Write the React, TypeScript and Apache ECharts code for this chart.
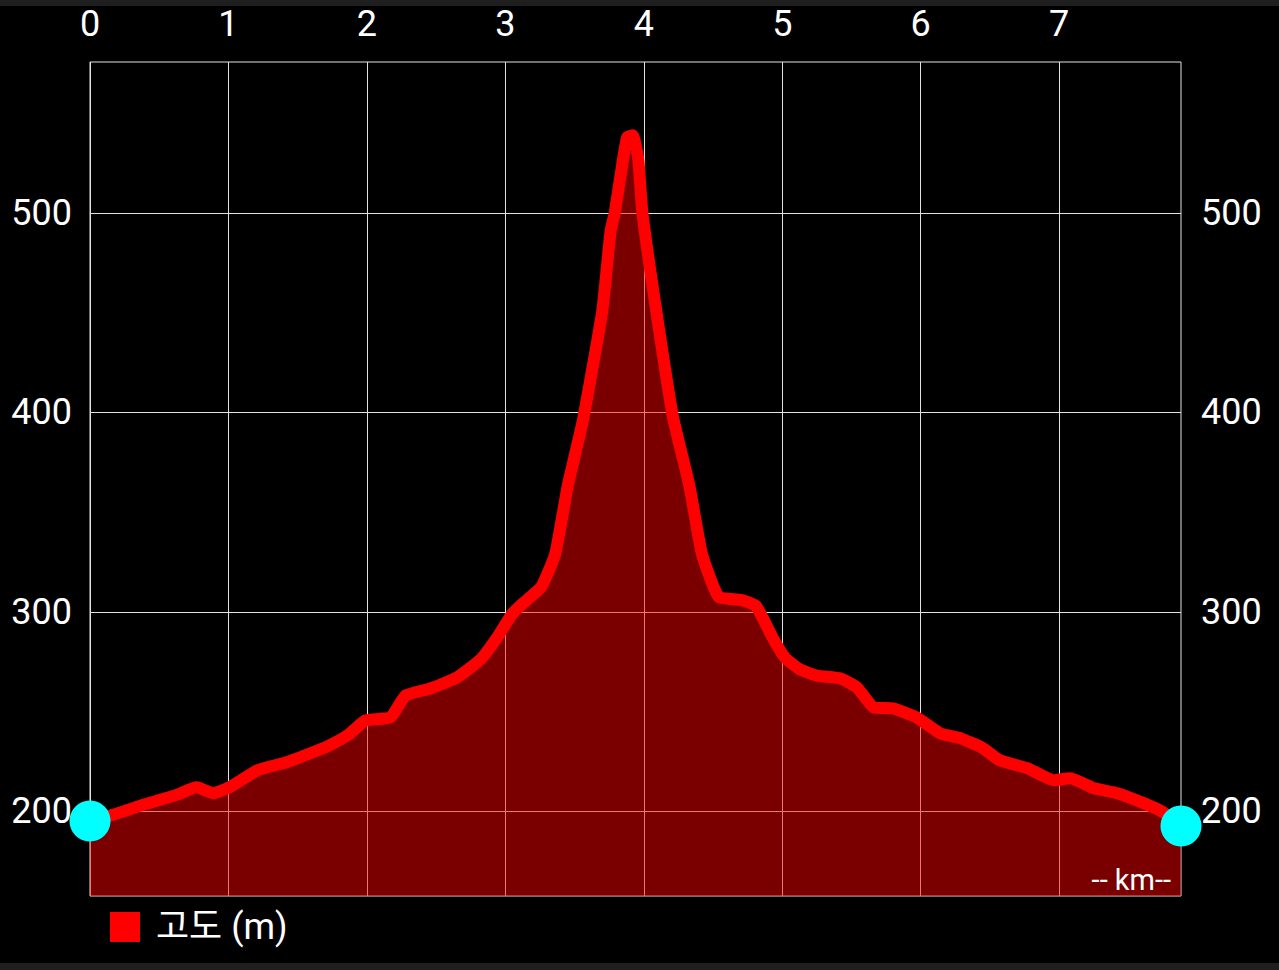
import React, { useEffect, useRef } from 'react';
import * as echarts from 'echarts';

// Distance along the route (km) and elevation (m)
const distKm = [
  0.0, 0.16, 0.4, 0.62, 0.77, 0.89, 1.01, 1.21, 1.42, 1.61, 1.73, 1.87, 1.99, 2.17, 2.28, 2.46, 2.65, 2.82, 2.94,
  3.05, 3.14, 3.26, 3.36, 3.45, 3.56, 3.7, 3.76, 3.79, 3.85, 3.88, 3.92, 3.96, 3.99, 4.09, 4.21, 4.33, 4.42, 4.54,
  4.7, 4.81, 4.93, 5.02, 5.13, 5.25, 5.42, 5.54, 5.66, 5.8, 5.97, 6.14, 6.29, 6.45, 6.57, 6.77, 6.96, 7.08, 7.25,
  7.42, 7.61, 7.75, 7.88,
];
const elevM = [
  195, 198, 203.5, 208, 212, 209, 212, 220.5, 224.5, 229.5, 233, 238.5, 245.5, 247, 258, 261.5, 267, 276, 287,
  299, 305, 312.5, 329, 363, 396, 451, 491, 500, 527, 538, 539, 527, 500, 451, 398, 363, 329, 307.5,
  306, 303, 287, 277, 271, 268, 266.5, 262, 252, 251.5, 247, 239, 236.5, 231.5, 225.5, 221.5, 215.5, 216.5, 211.5,
  209, 204, 199.5, 192.5,
];
const xTickValues = [0, 1, 2, 3, 4, 5, 6, 7];
const yTickValues = [200, 300, 400, 500];
const seriesName = '고도 (m)';
const unitLabel = '-- km--';

const X_MIN = 0;
const X_MAX = 7.88;
const Y_MIN = 157.4;
const Y_MAX = 575.8;

export default function App() {
  const ref = useRef<HTMLDivElement>(null);

  useEffect(() => {
    document.body.style.margin = '0';
    document.body.style.background = '#000';
    const chart = echarts.init(ref.current as HTMLDivElement, null, { renderer: 'svg' });
    const font = 'Roboto, "Noto Sans CJK KR", sans-serif';
    const gridColor = '#e2e2e2';

    const yAxisFor = (pos: 'left' | 'right') => ({
      type: 'value',
      position: pos,
      min: Y_MIN,
      max: Y_MAX,
      axisLine: { show: false },
      axisTick: { show: false, customValues: yTickValues },
      axisLabel: {
        customValues: yTickValues,
        color: '#fff',
        fontSize: 36,
        fontFamily: font,
        margin: pos === 'left' ? 18 : 20,
      },
      splitLine: { show: pos === 'left', lineStyle: { color: gridColor, width: 1 } },
    });

    const pts = distKm.map((d, i) => [d, elevM[i]]);
    const last = distKm.length - 1;

    chart.setOption({
      animation: false,
      backgroundColor: '#000',
      grid: {
        left: 90,
        top: 62,
        right: 98,
        bottom: 74,
        show: true,
        borderColor: gridColor,
        borderWidth: 1,
        backgroundColor: 'transparent',
      },
      xAxis: {
        type: 'value',
        position: 'top',
        min: X_MIN,
        max: X_MAX,
        axisLine: { show: false },
        axisTick: { show: false, customValues: xTickValues },
        axisLabel: {
          customValues: xTickValues,
          color: '#fff',
          fontSize: 36,
          fontFamily: font,
          margin: 20,
        },
        splitLine: { show: true, lineStyle: { color: gridColor, width: 1 } },
      },
      yAxis: [yAxisFor('left'), yAxisFor('right')],
      legend: {
        data: [seriesName],
        left: 105,
        top: 904,
        icon: 'rect',
        itemWidth: 30,
        itemHeight: 30,
        textStyle: { color: '#fff', fontSize: 36, fontFamily: font, padding: [0, 0, 0, 11] },
      },
      graphic: [
        { type: 'rect', left: 0, top: 0, shape: { width: 1279, height: 6 }, style: { fill: '#1f1f1f' }, silent: true },
        { type: 'rect', left: 0, top: 963, shape: { width: 1279, height: 7 }, style: { fill: '#1f1f1f' }, silent: true },
        {
          type: 'text',
          right: 108,
          top: 865,
          z: 10,
          style: { text: unitLabel, fill: '#fff', fontSize: 29, fontFamily: font },
          silent: true,
        },
      ],
      series: [
        {
          name: seriesName,
          type: 'line',
          data: pts,
          showSymbol: false,
          smooth: 0.15,
          itemStyle: { color: '#ff0000' },
          lineStyle: { color: '#ff0000', width: 12, join: 'round', cap: 'round' },
          areaStyle: { color: '#ff0000', opacity: 0.48, origin: 'start' },
          z: 2,
        },
        {
          name: 'endpoints',
          type: 'scatter',
          data: [pts[0], pts[last]],
          symbol: 'circle',
          symbolSize: 41,
          itemStyle: { color: '#00ffff', opacity: 1 },
          clip: false,
          z: 5,
          silent: true,
        },
      ],
    });

    return () => chart.dispose();
  }, []);

  return (
    <div
      ref={ref}
      style={{ position: 'fixed', left: 0, top: 0, width: 1279, height: 970, background: '#000' }}
    />
  );
}
